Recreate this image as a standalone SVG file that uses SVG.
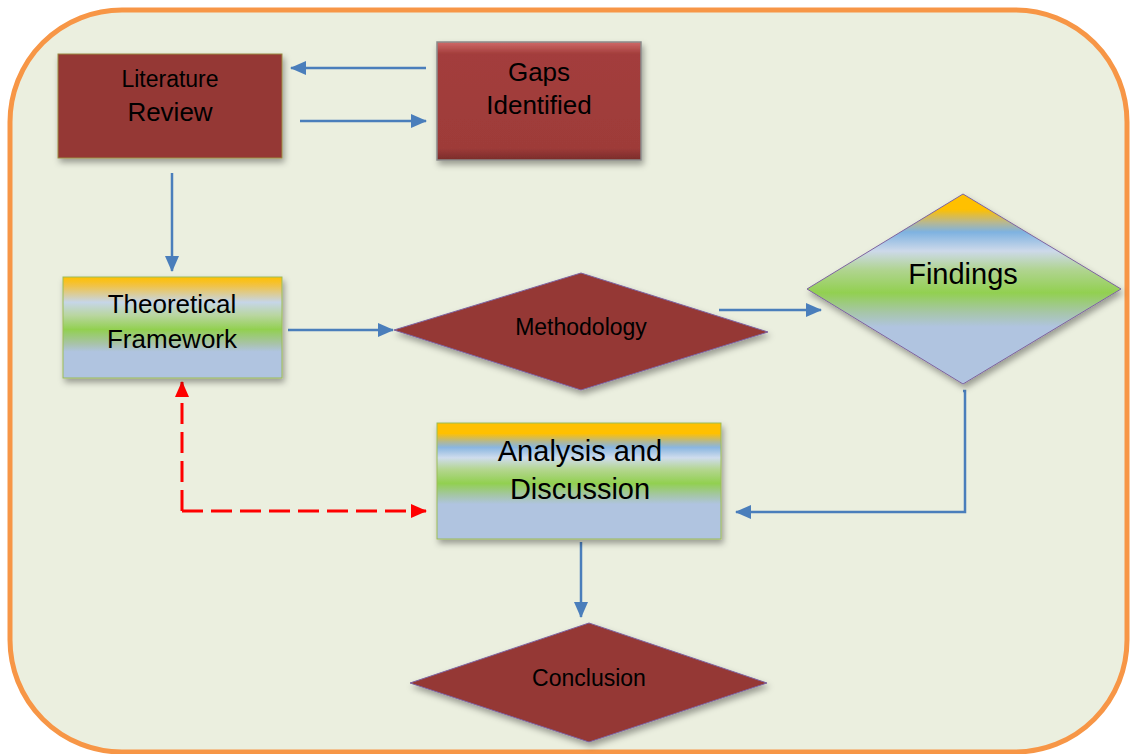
<svg xmlns="http://www.w3.org/2000/svg" width="1130" height="754" viewBox="0 0 1130 754">
  <defs>
    <style>
      .lbl { font-family: "Liberation Sans", Arial, sans-serif; fill: #000; text-anchor: middle; }
      .brown { fill: #953735; }
      .conn { fill: none; stroke: #4a7ebb; stroke-width: 2.5; }
      .dash { fill: none; stroke: #ff0000; stroke-width: 3; stroke-dasharray: 21 8; }
      .diam { stroke: #7e64a0; stroke-width: 1; }
    </style>
    <filter id="shadow" x="-10%" y="-10%" width="125%" height="130%">
      <feDropShadow dx="2" dy="4" stdDeviation="3" flood-color="#000" flood-opacity="0.35"/>
    </filter>
    <marker id="arrB" markerUnits="userSpaceOnUse" markerWidth="16" markerHeight="14" refX="15" refY="7" orient="auto">
      <path d="M0,0 L16,7 L0,14 Z" fill="#4a7ebb"/>
    </marker>
    <marker id="arrR" markerUnits="userSpaceOnUse" markerWidth="16" markerHeight="14" refX="15" refY="7" orient="auto">
      <path d="M0,0 L16,7 L0,14 Z" fill="#ff0000"/>
    </marker>
    <linearGradient id="gTF" x1="0" y1="0" x2="0" y2="1">
      <stop offset="0" stop-color="#ffc000"/>
      <stop offset="0.08" stop-color="#f2c240"/>
      <stop offset="0.25" stop-color="#c6d6e8"/>
      <stop offset="0.38" stop-color="#b9d6a0"/>
      <stop offset="0.52" stop-color="#92d050"/>
      <stop offset="0.66" stop-color="#a8c3a8"/>
      <stop offset="0.74" stop-color="#b0c4e0"/>
      <stop offset="1" stop-color="#b0c4e0"/>
    </linearGradient>
    <linearGradient id="gAD" x1="0" y1="0" x2="0" y2="1">
      <stop offset="0" stop-color="#ffc000"/>
      <stop offset="0.09" stop-color="#ffc000"/>
      <stop offset="0.16" stop-color="#b4b890"/>
      <stop offset="0.21" stop-color="#8ab6e0"/>
      <stop offset="0.3" stop-color="#cfdced"/>
      <stop offset="0.4" stop-color="#b4d690"/>
      <stop offset="0.52" stop-color="#92d050"/>
      <stop offset="0.62" stop-color="#a4c6a4"/>
      <stop offset="0.7" stop-color="#b0c4e0"/>
      <stop offset="1" stop-color="#b0c4e0"/>
    </linearGradient>
    <linearGradient id="gFD" x1="0" y1="0" x2="0" y2="1">
      <stop offset="0" stop-color="#ffc000"/>
      <stop offset="0.08" stop-color="#ffc000"/>
      <stop offset="0.15" stop-color="#b8b890"/>
      <stop offset="0.2" stop-color="#7eb2e0"/>
      <stop offset="0.3" stop-color="#cdd9ea"/>
      <stop offset="0.4" stop-color="#b0d490"/>
      <stop offset="0.52" stop-color="#92d050"/>
      <stop offset="0.62" stop-color="#a6c6a6"/>
      <stop offset="0.7" stop-color="#b0c4e0"/>
      <stop offset="1" stop-color="#b0c4e0"/>
    </linearGradient>
    <linearGradient id="gGap" x1="0" y1="0" x2="0" y2="1">
      <stop offset="0" stop-color="#d06a68"/>
      <stop offset="0.1" stop-color="#a33e3c"/>
      <stop offset="0.9" stop-color="#9e3b39"/>
      <stop offset="1" stop-color="#7a2c2a"/>
    </linearGradient>
  </defs>

  <rect id="frame" x="10" y="10" width="1117" height="742" rx="112" ry="112" fill="#ebefdf" stroke="#f79646" stroke-width="5"/>

  <g id="connectors">
    <line class="conn" x1="426" y1="68" x2="291" y2="68" marker-end="url(#arrB)"/>
    <line class="conn" x1="300" y1="121" x2="426" y2="121" marker-end="url(#arrB)"/>
    <line class="conn" x1="172" y1="173" x2="172" y2="271" marker-end="url(#arrB)"/>
    <line class="conn" x1="288" y1="330" x2="393" y2="330" marker-end="url(#arrB)"/>
    <line class="conn" x1="719" y1="310" x2="821" y2="310" marker-end="url(#arrB)"/>
    <path class="conn" d="M963,391 L965,391 L965,512 L736,512" marker-end="url(#arrB)"/>
    <line class="conn" x1="581" y1="542" x2="581" y2="617" marker-end="url(#arrB)"/>
    <path class="dash" d="M182,511 L182,382" marker-end="url(#arrR)"/>
    <path class="dash" d="M182,511 L426,511" marker-end="url(#arrR)"/>
  </g>

  <g id="literature-review">
    <rect x="58" y="54" width="224" height="104" class="brown" stroke="#9a8a40" stroke-width="1" filter="url(#shadow)"/>
    <text class="lbl" x="170" y="87" font-size="23">Literature</text>
    <text class="lbl" x="170" y="121" font-size="26">Review</text>
  </g>

  <g id="gaps-identified">
    <rect x="437" y="42" width="204" height="118" fill="url(#gGap)" stroke="#8a8a8a" stroke-width="1.5" filter="url(#shadow)"/>
    <text class="lbl" x="539" y="81" font-size="26">Gaps</text>
    <text class="lbl" x="539" y="114" font-size="26">Identified</text>
  </g>

  <g id="theoretical-framework">
    <rect x="63" y="277" width="219" height="101" fill="url(#gTF)" stroke="#9bbb59" stroke-width="1" filter="url(#shadow)"/>
    <text class="lbl" x="172" y="313" font-size="26">Theoretical</text>
    <text class="lbl" x="172" y="348" font-size="26">Framework</text>
  </g>

  <g id="methodology">
    <polygon points="581,273 768,332 581,390 394,330" class="brown diam" filter="url(#shadow)"/>
    <text class="lbl" x="581" y="335" font-size="23">Methodology</text>
  </g>

  <g id="findings">
    <polygon points="963,194 1121,289 963,384 807,289" fill="url(#gFD)" class="diam" filter="url(#shadow)"/>
    <text class="lbl" x="963" y="284" font-size="29">Findings</text>
  </g>

  <g id="analysis-discussion">
    <rect x="437" y="423" width="284" height="116" fill="url(#gAD)" stroke="#9bbb59" stroke-width="1" filter="url(#shadow)"/>
    <text class="lbl" x="580" y="461" font-size="29">Analysis and</text>
    <text class="lbl" x="580" y="499" font-size="29">Discussion</text>
  </g>

  <g id="conclusion">
    <polygon points="589,623 767,683 589,742 410,683" class="brown diam" filter="url(#shadow)"/>
    <text class="lbl" x="589" y="686" font-size="23">Conclusion</text>
  </g>
</svg>
